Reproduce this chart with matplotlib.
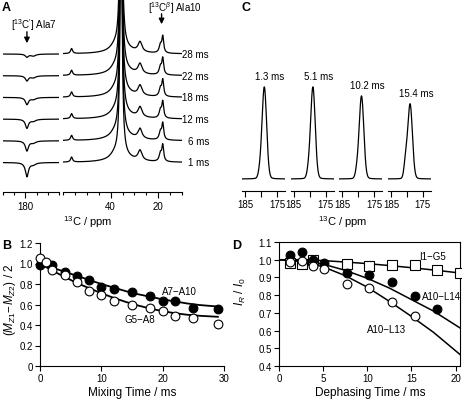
import numpy as np
import matplotlib
matplotlib.use('Agg')
import matplotlib.pyplot as plt
from matplotlib.ticker import MultipleLocator

plt.rcParams['font.family'] = ['Liberation Sans', 'DejaVu Sans']
plt.rcParams['mathtext.fontset'] = 'custom'
plt.rcParams['mathtext.rm'] = 'Liberation Sans'
plt.rcParams['mathtext.it'] = 'Liberation Sans:italic'
plt.rcParams['mathtext.bf'] = 'Liberation Sans:bold'
plt.rcParams['font.size'] = 7

# ---------------- data ----------------
# A: 13C spectra for several mixing times
mix_labels = ['1 ms', '6 ms', '12 ms', '18 ms', '22 ms', '28 ms']
co_dip = [14, 10, 9, 7, 5, 3]          # Ala7 C' negative peak depth
# carbonyl region peaks (ppm, width)
co_pos = [179.3, 176.5]
co_w = [0.8, 1.3]
co_second = 2
# aliphatic peaks common to all traces: position, height, half width
ali_pos = [56.5, 38.5, 35.6, 35.6, 27.6, 19.0, 18.0]
ali_h = [5, 3, 300, 6, 10, 8, 16]
ali_w = [0.5, 2.0, 0.45, 5.0, 1.0, 0.6, 0.45]

# B: magnetization exchange
b_t_a7a10 = [0, 2, 4, 6, 8, 10, 12, 15, 18, 20, 22, 25, 29]
b_a7a10 = [0.99, 0.985, 0.92, 0.88, 0.84, 0.77, 0.75, 0.72, 0.685, 0.63, 0.63, 0.57, 0.56]
b_t_g5a8 = [0, 1, 2, 4, 6, 8, 10, 12, 15, 18, 20, 22, 25, 29]
b_g5a8 = [1.05, 1.01, 0.935, 0.89, 0.815, 0.73, 0.69, 0.63, 0.60, 0.57, 0.54, 0.49, 0.47, 0.41]
b_fit_t = [0, 2, 4, 6, 8, 10, 12, 14, 16, 18, 20, 22, 24, 26, 29]
b_fit_a7a10 = [1.0, 0.96, 0.92, 0.88, 0.84, 0.80, 0.765, 0.73, 0.70, 0.675, 0.65, 0.63, 0.61, 0.595, 0.58]
b_fit_g5a8 = [1.0, 0.93, 0.87, 0.81, 0.76, 0.71, 0.665, 0.625, 0.59, 0.56, 0.535, 0.515, 0.50, 0.49, 0.48]

# C: REDOR spectra
c_labels = ['1.3 ms', '5.1 ms', '10.2 ms', '15.4 ms']
c_height = [92, 92, 83, 75]
c_shoulder = [5, 6, 7, 16]
c_pos = 179.0
c_sh_pos = 180.4

# D: REDOR dephasing
d_t_sq = [1.28, 2.56, 3.84, 7.68, 10.24, 12.8, 15.36, 17.92, 20.48]
d_i1g5 = [0.983, 0.977, 1.0, 0.977, 0.964, 0.968, 0.968, 0.94, 0.924]
d_t = [1.28, 2.56, 3.84, 5.12, 7.68, 10.24, 12.8, 15.36, 17.92]
d_a10l14 = [1.028, 1.043, 1.0, 0.98, 0.924, 0.915, 0.877, 0.794, 0.72]
d_t_open = [1.28, 2.56, 3.84, 5.12, 7.68, 10.24, 12.8, 15.36]
d_a10l13 = [0.986, 0.99, 0.964, 0.945, 0.863, 0.839, 0.76, 0.68]
d_fit_t = [0, 2.5, 5, 7.5, 10, 12.5, 15, 17.5, 20.5]
d_fit_i1g5 = [1.0, 1.0, 0.995, 0.987, 0.978, 0.967, 0.955, 0.942, 0.925]
d_fit_a10l14 = [1.0, 0.995, 0.975, 0.94, 0.895, 0.84, 0.775, 0.71, 0.615]
d_fit_a10l13 = [1.0, 0.99, 0.96, 0.91, 0.845, 0.765, 0.68, 0.59, 0.465]

# ---------------- figure ----------------
W, H = 462, 402
fig = plt.figure(figsize=(W / 100, H / 100), dpi=100)


def box(l, t, r, b):
    return [l / W, 1 - b / H, (r - l) / W, (b - t) / H]


def lor(x, x0, h, w):
    return h * w ** 2 / ((x - x0) ** 2 + w ** 2)


def gau(x, x0, h, s):
    return h * np.exp(-0.5 * ((x - x0) / s) ** 2)


def spec_axis(ax):
    for s in ['top', 'left', 'right']:
        ax.spines[s].set_visible(False)
    ax.spines['bottom'].set_linewidth(0.8)
    ax.set_yticks([])
    ax.patch.set_alpha(0)
    ax.tick_params(axis='x', direction='out', length=4.5, width=0.8, pad=2, labelsize=7)
    ax.tick_params(axis='x', which='minor', direction='out', length=2.5, width=0.8)


# ---- A ----
axA1 = fig.add_axes(box(2.7, 0, 59.3, 193))
axA2 = fig.add_axes(box(63.3, 0, 181.7, 193))
x_l = np.linspace(190, 165, 500)
x_r = np.linspace(60, 10, 2000)
for i, lab in enumerate(mix_labels):
    off = 29.5 + 21.7 * i
    y_l = off - lor(x_l, co_pos[0], co_dip[i], co_w[0]) - lor(x_l, co_pos[1], co_second, co_w[1])
    y_r = off + sum(lor(x_r, p, h, w) for p, h, w in zip(ali_pos, ali_h, ali_w))
    axA1.plot(x_l, y_l, color='black', lw=0.9)
    axA2.plot(x_r, y_r, color='black', lw=0.9)
    axA2.text(-1.5, off, lab, ha='right', va='center', fontsize=7)
for ax, lim in [(axA1, (190, 165)), (axA2, (60, 10))]:
    ax.set_xlim(*lim)
    ax.set_ylim(0, 193)
    spec_axis(ax)
    ax.xaxis.set_minor_locator(MultipleLocator(5))
axA1.set_xticks([180])
axA2.set_xticks([40, 20])
axA1.text(176.3, 168, "[$^{13}$C$'$] Ala7", ha='center', va='center', fontsize=7)
axA1.annotate('', xy=(179.3, 146), xytext=(179.3, 163),
              arrowprops=dict(arrowstyle='-|>', color='black', lw=1, mutation_scale=8))
axA2.text(13.0, 185, "[$^{13}$C$^{\\beta}$] Ala10", ha='center', va='center', fontsize=7)
axA2.annotate('', xy=(18.5, 165), xytext=(18.5, 181),
              arrowprops=dict(arrowstyle='-|>', color='black', lw=1, mutation_scale=8))
fig.text(88 / W, 1 - 222 / H, '$^{13}$C / ppm', ha='center', va='center', fontsize=8)

# ---- C ----
x_c = np.linspace(186, 172.5, 400)
for i, lab in enumerate(c_labels):
    l = 242 + 48.6 * i
    ax = fig.add_axes(box(l, 60, l + 43, 192))
    y = (12 + gau(x_c, c_pos, c_height[i] * 0.93, 0.72) + lor(x_c, c_pos, c_height[i] * 0.07, 0.9)
         + gau(x_c, c_sh_pos, c_shoulder[i], 0.5))
    ax.plot(x_c, y, color='black', lw=0.9)
    ax.set_xlim(186, 172.5)
    ax.set_ylim(0, 132)
    spec_axis(ax)
    ax.set_xticks([185, 180, 175])
    ax.set_xticklabels(['185', '', '175'])
    ax.tick_params(axis='x', length=4)
    ax.text(177.2, 12 + c_height[i] + 6, lab, ha='center', va='bottom', fontsize=7)
fig.text(343 / W, 1 - 222 / H, '$^{13}$C / ppm', ha='center', va='center', fontsize=8)

# ---- B ----
axB = fig.add_axes(box(40, 244, 224, 367))
axB.plot(b_fit_t, b_fit_a7a10, color='black', lw=1.3)
axB.plot(b_fit_t, b_fit_g5a8, color='black', lw=1.3)
axB.plot(b_t_a7a10, b_a7a10, 'o', ms=6.3, mfc='black', mec='black', mew=0.8, clip_on=False, zorder=3)
axB.plot(b_t_g5a8, b_g5a8, 'o', ms=6.3, mfc='white', mec='black', mew=0.8, clip_on=False, zorder=3)
axB.set_xlim(0, 30)
axB.set_ylim(0, 1.2)
axB.set_xticks([0, 10, 20, 30])
axB.set_yticks([0, 0.2, 0.4, 0.6, 0.8, 1.0, 1.2])
axB.set_yticklabels(['0', '0.2', '0.4', '0.6', '0.8', '1.0', '1.2'])
for s in ['top', 'right']:
    axB.spines[s].set_visible(False)
axB.text(22.8, 0.735, 'A7\u2212A10', ha='center', va='center', fontsize=7)
axB.text(16.3, 0.46, 'G5\u2212A8', ha='center', va='center', fontsize=7)
fig.text(132 / W, 1 - 393 / H, 'Mixing Time / ms', ha='center', va='center', fontsize=8.5)
fig.text(10 / W, 1 - 300 / H, '$(M_{Z1}\\!-\\!M_{Z2})$ / 2', ha='center', va='center',
         rotation=90, fontsize=8.5)

# ---- D ----
axD = fig.add_axes(box(279, 243, 460, 367))
axD.plot(d_fit_t, d_fit_i1g5, color='black', lw=1.1)
axD.plot(d_fit_t, d_fit_a10l14, color='black', lw=1.1)
axD.plot(d_fit_t, d_fit_a10l13, color='black', lw=1.1)
axD.plot(d_t_sq, d_i1g5, 's', ms=6.5, mfc='white', mec='black', mew=0.8, clip_on=False, zorder=3)
axD.plot(d_t, d_a10l14, 'o', ms=6.3, mfc='black', mec='black', mew=0.8, clip_on=False, zorder=3)
axD.plot(d_t_open, d_a10l13, 'o', ms=6.3, mfc='white', mec='black', mew=0.8, clip_on=False, zorder=3)
axD.set_xlim(0, 20.5)
axD.set_ylim(0.4, 1.1)
axD.set_xticks([0, 5, 10, 15, 20])
axD.set_yticks([0.4, 0.5, 0.6, 0.7, 0.8, 0.9, 1.0, 1.1])
axD.text(17.4, 1.022, 'I1\u2212G5', ha='center', va='center', fontsize=7)
axD.text(18.4, 0.793, 'A10\u2212L14', ha='center', va='center', fontsize=7)
axD.text(12.2, 0.609, 'A10\u2212L13', ha='center', va='center', fontsize=7)
fig.text(370 / W, 1 - 393 / H, 'Dephasing Time / ms', ha='center', va='center', fontsize=8.5)
fig.text(240 / W, 1 - 292 / H, '$I_R$ / $I_0$', ha='center', va='center', rotation=90, fontsize=8.5)

for ax in [axB, axD]:
    ax.tick_params(direction='out', length=3.5, width=0.8, pad=1.5, labelsize=7)
    for s in ax.spines.values():
        s.set_linewidth(0.8)

# panel letters
for lab, x, y in [('A', 2, 8), ('B', 2, 246), ('C', 242, 8), ('D', 232, 246)]:
    fig.text(x / W, 1 - y / H, lab, ha='left', va='center', fontsize=9, fontweight='bold')

fig.savefig('out.png', dpi=100)
